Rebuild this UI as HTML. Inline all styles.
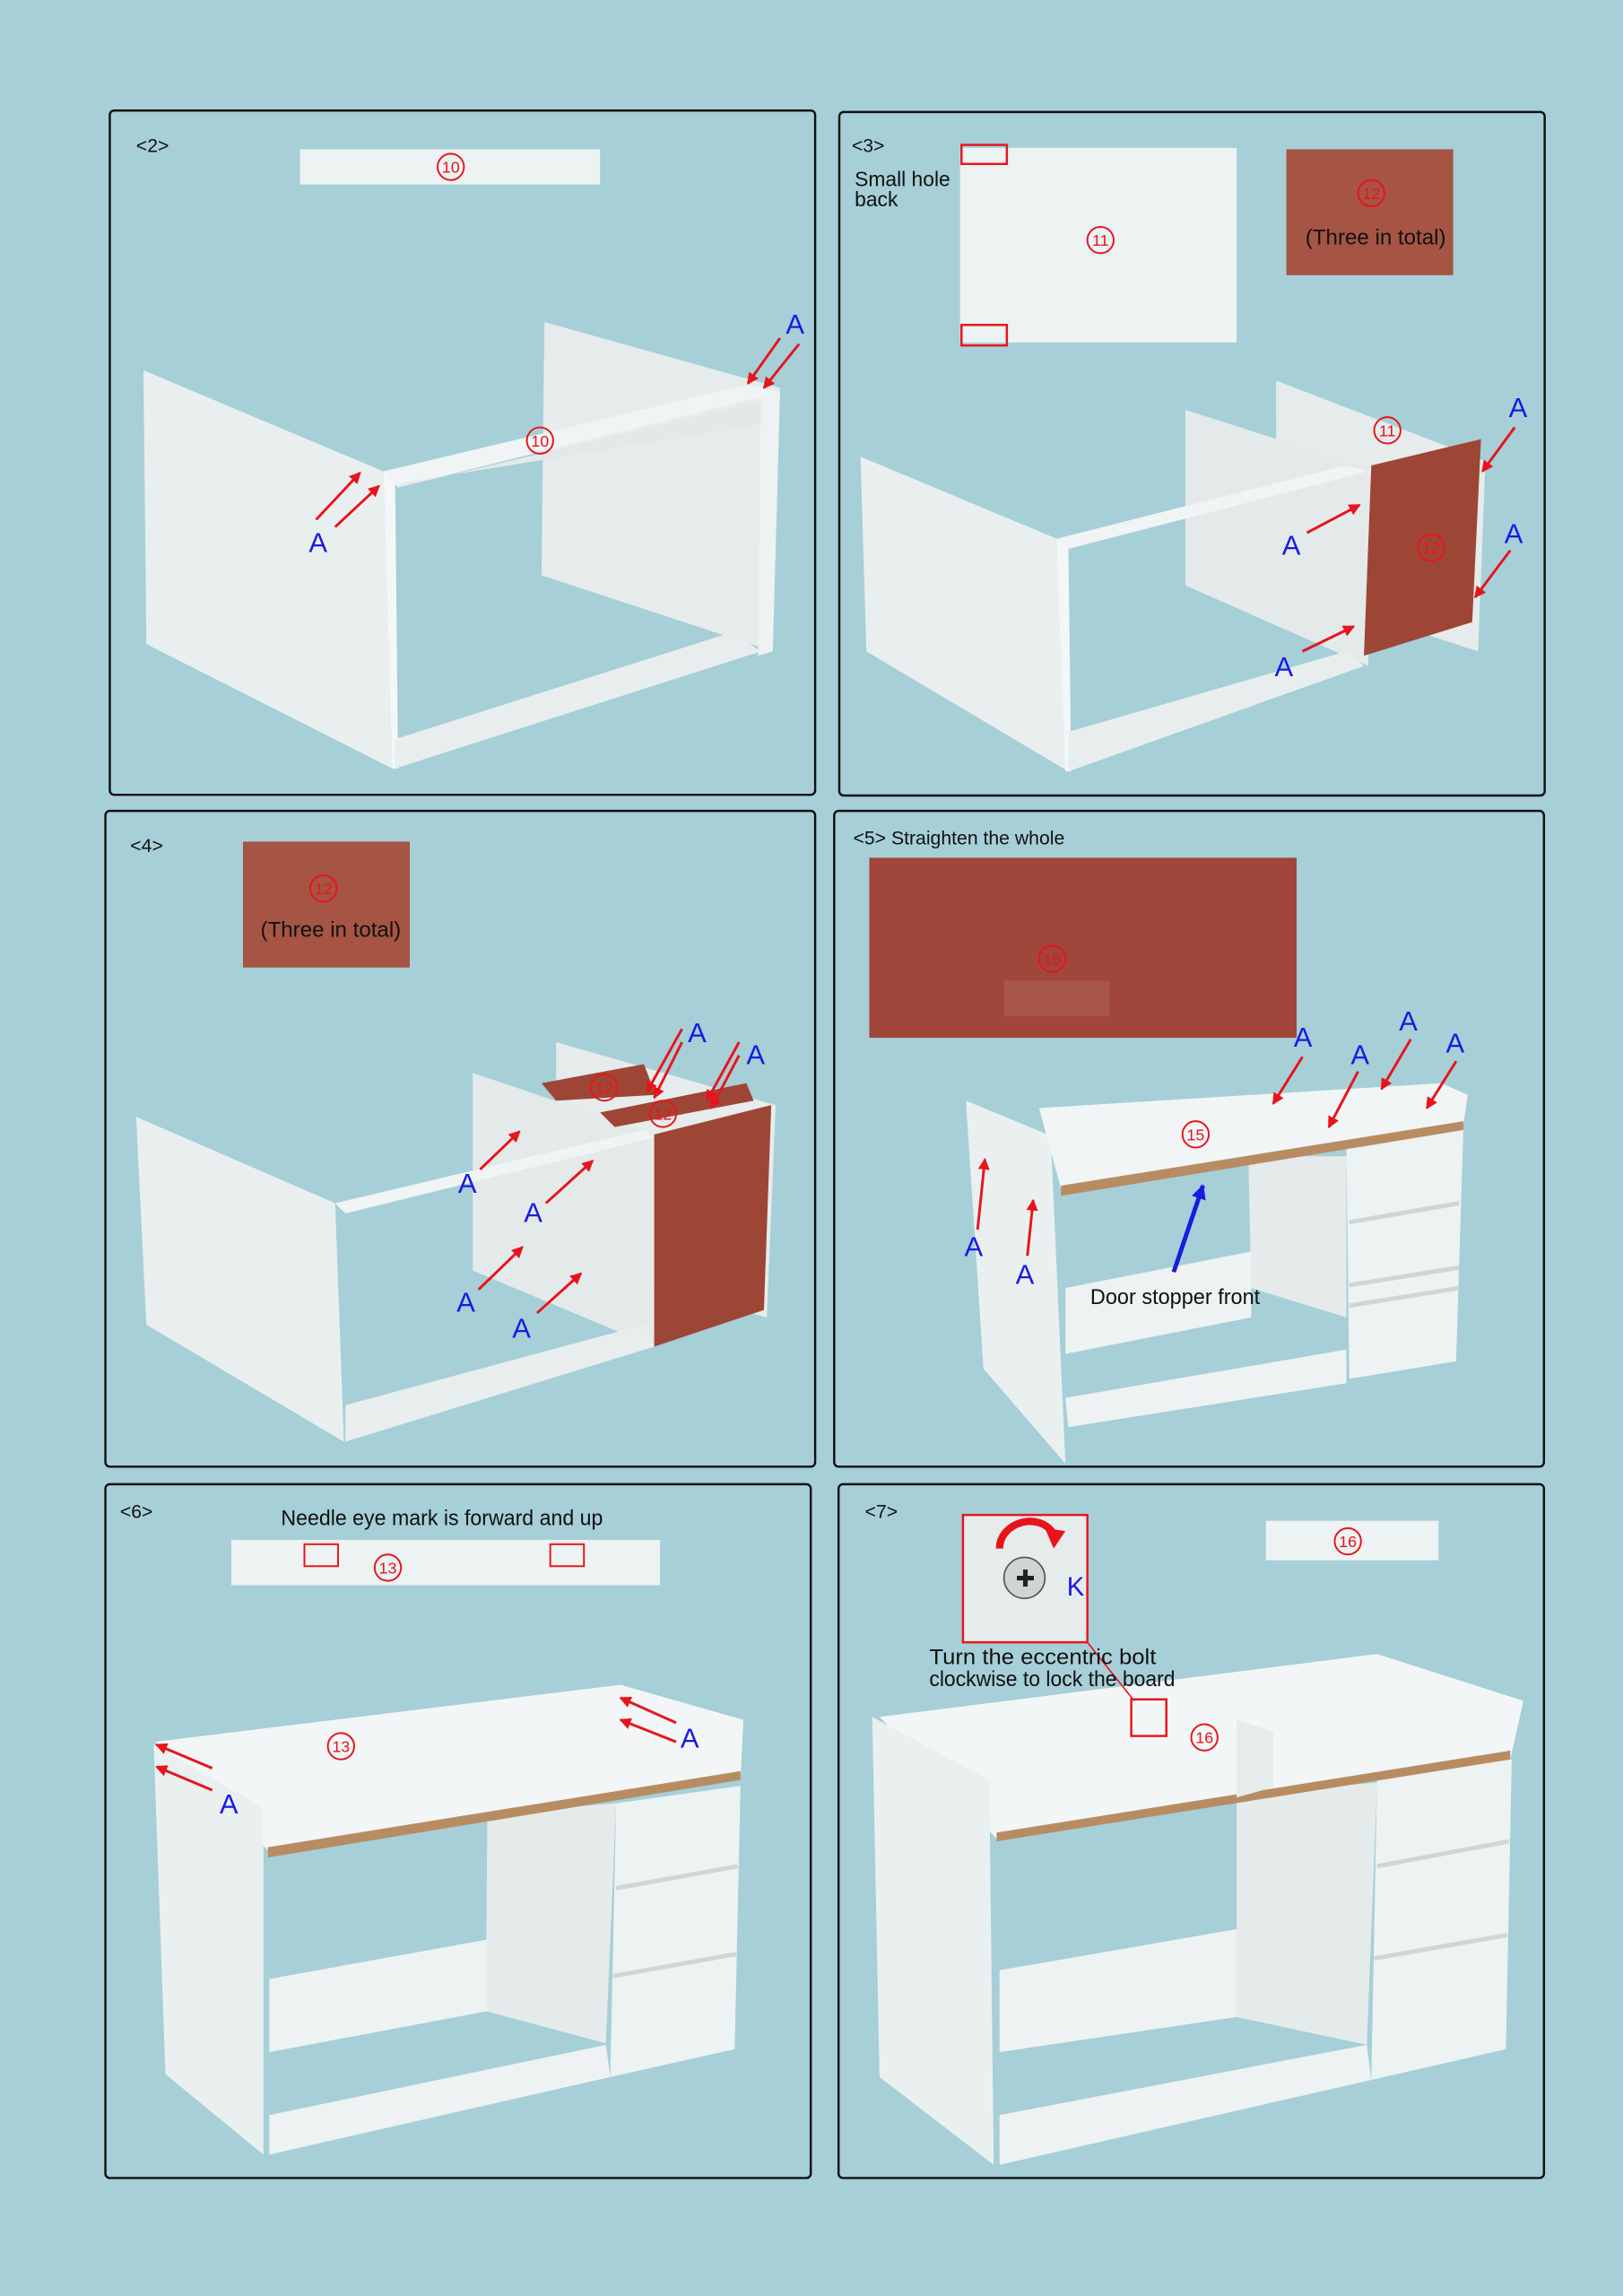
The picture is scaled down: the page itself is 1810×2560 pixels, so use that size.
<!DOCTYPE html>
<html><head><meta charset="utf-8"><style>
html,body{margin:0;padding:0;background:#a6cfd8;}
svg{display:block}
text{font-family:"Liberation Sans",sans-serif;}
</style></head><body>
<svg width="1810" height="2560" viewBox="0 0 1109 1568.6" xmlns="http://www.w3.org/2000/svg">
<defs>
<marker id="ar" markerWidth="8" markerHeight="8" refX="7" refY="4" orient="auto" markerUnits="userSpaceOnUse"><path d="M0,0 L8,4 L0,8 Z" fill="#e8141c"/></marker>
<marker id="ab" markerWidth="10" markerHeight="10" refX="9" refY="5" orient="auto" markerUnits="userSpaceOnUse"><path d="M0,0 L10,5 L0,10 Z" fill="#1a1ae0"/></marker>
</defs>
<rect width="1109" height="1569" fill="#a6cfd8"/>
<g fill="none" stroke="#111" stroke-width="1.5">
<rect x="75" y="75.5" width="482" height="467.5" rx="3"/>
<rect x="573.5" y="76.5" width="482" height="467" rx="3"/>
<rect x="72" y="554" width="485" height="448" rx="3"/>
<rect x="570" y="554" width="485" height="448" rx="3"/>
<rect x="72" y="1014" width="482" height="474" rx="3"/>
<rect x="573" y="1014" width="482" height="474" rx="3"/>
</g>

<!-- Panel 2 -->
<rect x="205" y="102" width="205" height="24" fill="#edf2f2"/>
<polygon points="372,220 533,265 528,445 370,393" fill="#e6ecec"/>
<polygon points="98,253 262,322 268,525 100,440" fill="#e9efef"/>
<polygon points="262,322 270,328 272,525 268,525" fill="#f4f7f7"/>
<polygon points="262,322 510,263 533,268 272,333" fill="#f0f4f4"/>
<polygon points="272,333 520,274 520,290 274,330" fill="#e3e9e9"/>
<polygon points="520,272 533,268 528,445 518,448" fill="#eef2f2"/>
<polygon points="270,505 500,432 520,445 270,525" fill="#e8eeee"/>

<!-- Panel 3 -->
<rect x="656" y="101" width="189" height="133" fill="#edf2f2"/>
<rect x="657" y="99" width="31" height="13" fill="none" stroke="#e8141c" stroke-width="1.5"/>
<rect x="657" y="222" width="31" height="14" fill="none" stroke="#e8141c" stroke-width="1.5"/>
<rect x="879" y="102" width="114" height="86" fill="#a65444"/>
<polygon points="872,260 1015,315 1010,445 872,400" fill="#e6ecec"/>
<polygon points="810,280 935,320 935,455 810,400" fill="#e4eaea"/>
<polygon points="588,312 722,368 730,527 592,445" fill="#e9efef"/>
<polygon points="722,368 730,372 732,527 728,527" fill="#f4f7f7"/>
<polygon points="722,368 920,318 935,322 730,375" fill="#f0f4f4"/>
<polygon points="730,500 920,445 932,455 730,527" fill="#e8eeee"/>
<polygon points="937,318 1012,300 1006,425 932,448" fill="#9e4636"/>

<!-- Panel 4 -->
<rect x="166" y="575" width="114" height="86" fill="#a65444"/>
<polygon points="380,712 530,755 524,900 380,860" fill="#e6ecec"/>
<polygon points="323,733 447,775 447,920 323,868" fill="#e4eaea"/>
<polygon points="370,740 440,727 448,748 380,752" fill="#9e4636"/>
<polygon points="410,760 510,740 515,752 420,770" fill="#9e4636"/>
<polygon points="93,763 229,822 235,985 100,905" fill="#e9efef"/>
<polygon points="229,822 440,772 447,777 236,829" fill="#f0f4f4"/>
<polygon points="236,960 440,905 447,920 236,985" fill="#e8eeee"/>
<polygon points="447,775 527,755 522,895 447,920" fill="#9e4636"/>

<!-- Panel 5 -->
<rect x="594" y="586" width="292" height="123" fill="#a0463a"/>
<rect x="686" y="670" width="72" height="24" fill="#a95748"/>
<polygon points="853,790 920,790 920,900 855,880" fill="#e5ebeb"/>
<polygon points="728,880 855,855 855,900 728,925" fill="#eef2f2"/>
<polygon points="728,955 920,922 920,945 730,975" fill="#eef2f2"/>
<polygon points="920,785 1000,770 995,930 922,942" fill="#edf2f2"/>
<g stroke="#cfd6d6" stroke-width="3"><line x1="922" y1="835" x2="997" y2="822"/><line x1="922" y1="878" x2="997" y2="866"/><line x1="922" y1="892" x2="997" y2="880"/></g>
<polygon points="660,752 718,776 728,1000 672,935" fill="#eaf0f0"/>
<polygon points="710,757 985,740 1003,748 1000,768 725,812" fill="#f2f5f5"/>
<polygon points="725,810 1000,766 1000,772 725,817" fill="#b88c62"/>

<!-- Panel 6 -->
<rect x="158" y="1052" width="293" height="31" fill="#edf2f2"/>
<rect x="208" y="1055" width="23" height="15" fill="none" stroke="#e8141c" stroke-width="1.2"/>
<rect x="376" y="1055" width="23" height="15" fill="none" stroke="#e8141c" stroke-width="1.2"/>
<polygon points="333,1239 421,1232 414,1396 332,1374" fill="#e5ebeb"/>
<polygon points="184,1352 333,1325 333,1374 184,1402" fill="#eef2f2"/>
<polygon points="184,1445 414,1397 417,1419 184,1472" fill="#eef2f2"/>
<polygon points="421,1232 506,1220 502,1400 417,1419" fill="#edf2f2"/>
<g stroke="#cfd6d6" stroke-width="3"><line x1="421" y1="1290" x2="504" y2="1275"/><line x1="419" y1="1350" x2="503" y2="1335"/></g>
<polygon points="106,1190 424,1151 508,1175 506,1215 183,1264" fill="#f3f6f6"/>
<polygon points="183,1262 506,1210 506,1216 183,1269" fill="#b88c62"/>
<polygon points="105,1192 180,1235 180,1472 113,1417" fill="#eaf0f0"/>

<!-- Panel 7 -->
<rect x="865" y="1039" width="118" height="27" fill="#edf2f2"/>
<polygon points="845,1224 941,1218 934,1397 845,1378" fill="#e5ebeb"/>
<polygon points="683,1346 845,1318 845,1378 683,1402" fill="#eef2f2"/>
<polygon points="683,1445 934,1397 937,1421 683,1479" fill="#eef2f2"/>
<polygon points="941,1215 1033,1202 1029,1400 937,1421" fill="#edf2f2"/>
<g stroke="#cfd6d6" stroke-width="3"><line x1="941" y1="1275" x2="1031" y2="1258"/><line x1="939" y1="1338" x2="1030" y2="1322"/></g>
<polygon points="601,1173 941,1130 1041,1162 1032,1202 681,1256" fill="#f3f6f6"/>
<polygon points="681,1252 1032,1196 1032,1202 681,1258" fill="#b88c62"/>
<polygon points="845,1175 870,1183 870,1221 845,1228" fill="#e6ecec"/>
<polygon points="596,1173 676,1216 679,1479 601,1419" fill="#eaf0f0"/>
<rect x="658" y="1035" width="85" height="87" fill="#e6ecec" stroke="#e8141c" stroke-width="1.5"/>
<circle cx="700" cy="1078" r="14" fill="#cfd4d4" stroke="#555"/>
<text x="694" y="1084" font-size="16" fill="#222" font-family="DejaVu Sans,sans-serif">✚</text>
<path d="M683,1058 C683,1040 710,1032 720,1048" fill="none" stroke="#e8141c" stroke-width="5"/>
<polygon points="714,1044 728,1046 720,1058" fill="#e8141c"/>
<text x="729" y="1090" font-size="18" fill="#1a1ae0">K</text>
<line x1="743" y1="1122" x2="775" y2="1162" stroke="#e8141c"/>
<rect x="773" y="1161" width="24" height="25" fill="none" stroke="#e8141c" stroke-width="1.5"/>

<!-- circled numbers -->
<g fill="none" stroke="#e8141c" stroke-width="1.2">
<circle cx="308" cy="114" r="9"/><circle cx="369" cy="301" r="9"/>
<circle cx="752" cy="164" r="9"/><circle cx="937" cy="132" r="9"/>
<circle cx="948" cy="294" r="9"/><circle cx="978" cy="374" r="9"/>
<circle cx="221" cy="607" r="9"/><circle cx="413" cy="743" r="9"/><circle cx="453" cy="761" r="9"/>
<circle cx="719" cy="655" r="9"/><circle cx="817" cy="775" r="9"/>
<circle cx="265" cy="1071" r="9"/><circle cx="233" cy="1193" r="9"/>
<circle cx="921" cy="1053" r="9"/><circle cx="823" cy="1187" r="9"/>
</g>
<g fill="#e8141c" font-size="11" text-anchor="middle">
<text x="308" y="118">10</text><text x="369" y="305">10</text>
<text x="752" y="168">11</text><text x="937" y="136">12</text>
<text x="948" y="298">11</text><text x="978" y="378">12</text>
<text x="221" y="611">12</text><text x="413" y="747">12</text><text x="453" y="765">12</text>
<text x="719" y="659">15</text><text x="817" y="779">15</text>
<text x="265" y="1075">13</text><text x="233" y="1197">13</text>
<text x="921" y="1057">16</text><text x="823" y="1191">16</text>
</g>

<!-- red arrows -->
<g stroke="#e8141c" stroke-width="1.8" marker-end="url(#ar)">
<line x1="216" y1="355" x2="246" y2="323"/><line x1="229" y1="360" x2="259" y2="332"/>
<line x1="533" y1="231" x2="511" y2="262"/><line x1="546" y1="235" x2="522" y2="265"/>
<line x1="893" y1="364" x2="929" y2="345"/><line x1="890" y1="445" x2="925" y2="428"/>
<line x1="1035" y1="292" x2="1013" y2="322"/><line x1="1032" y1="376" x2="1008" y2="408"/>
<line x1="328" y1="799" x2="355" y2="773"/><line x1="373" y1="822" x2="405" y2="793"/>
<line x1="327" y1="881" x2="357" y2="852"/><line x1="367" y1="897" x2="397" y2="870"/>
<line x1="466" y1="703" x2="442" y2="746"/><line x1="466" y1="712" x2="447" y2="750"/>
<line x1="505" y1="712" x2="483" y2="752"/><line x1="505" y1="721" x2="486" y2="757"/>
<line x1="890" y1="722" x2="870" y2="754"/><line x1="928" y1="732" x2="908" y2="770"/>
<line x1="964" y1="710" x2="944" y2="744"/><line x1="995" y1="725" x2="975" y2="757"/>
<line x1="668" y1="840" x2="673" y2="792"/><line x1="702" y1="858" x2="706" y2="820"/>
<line x1="462" y1="1177" x2="424" y2="1160"/><line x1="462" y1="1190" x2="424" y2="1175"/>
<line x1="145" y1="1208" x2="107" y2="1192"/><line x1="145" y1="1223" x2="107" y2="1207"/>
</g>
<line x1="802" y1="869" x2="822" y2="810" stroke="#1a1ae0" stroke-width="3" marker-end="url(#ab)"/>

<!-- A labels -->
<g fill="#1a1ae0" font-size="19">
<text x="211" y="377">A</text><text x="537" y="228">A</text>
<text x="876" y="379">A</text><text x="871" y="462">A</text>
<text x="1031" y="285">A</text><text x="1028" y="371">A</text>
<text x="313" y="815">A</text><text x="358" y="835">A</text>
<text x="312" y="896">A</text><text x="350" y="914">A</text>
<text x="470" y="712">A</text><text x="510" y="727">A</text>
<text x="884" y="715">A</text><text x="923" y="727">A</text>
<text x="956" y="704">A</text><text x="988" y="719">A</text>
<text x="659" y="858">A</text><text x="694" y="877">A</text>
<text x="465" y="1194">A</text><text x="150" y="1239">A</text>
</g>

<!-- texts (on top) -->
<g font-size="13" fill="#111">
<text x="93" y="104">&lt;2&gt;</text>
<text x="582" y="104">&lt;3&gt;</text>
<text x="89" y="582">&lt;4&gt;</text>
<text x="583" y="577">&lt;5&gt; Straighten the whole</text>
<text x="82" y="1037">&lt;6&gt;</text>
<text x="591" y="1037">&lt;7&gt;</text>
<text x="584" y="127" font-size="14">Small hole</text>
<text x="584" y="141" font-size="14">back</text>
<text x="192" y="1042" font-size="14.5" textLength="220" lengthAdjust="spacingAndGlyphs">Needle eye mark is forward and up</text>
<text x="635" y="1137" font-size="14.5" textLength="155" lengthAdjust="spacingAndGlyphs">Turn the eccentric bolt</text>
<text x="635" y="1152" font-size="14.5" textLength="168" lengthAdjust="spacingAndGlyphs">clockwise to lock the board</text>
<text x="745" y="891" font-size="14.5" textLength="116" lengthAdjust="spacingAndGlyphs">Door stopper front</text>
<text x="892" y="167" font-size="14.5" textLength="96" lengthAdjust="spacingAndGlyphs">(Three in total)</text>
<text x="178" y="640" font-size="14.5" textLength="96" lengthAdjust="spacingAndGlyphs">(Three in total)</text>
</g>
</svg>
</body></html>
